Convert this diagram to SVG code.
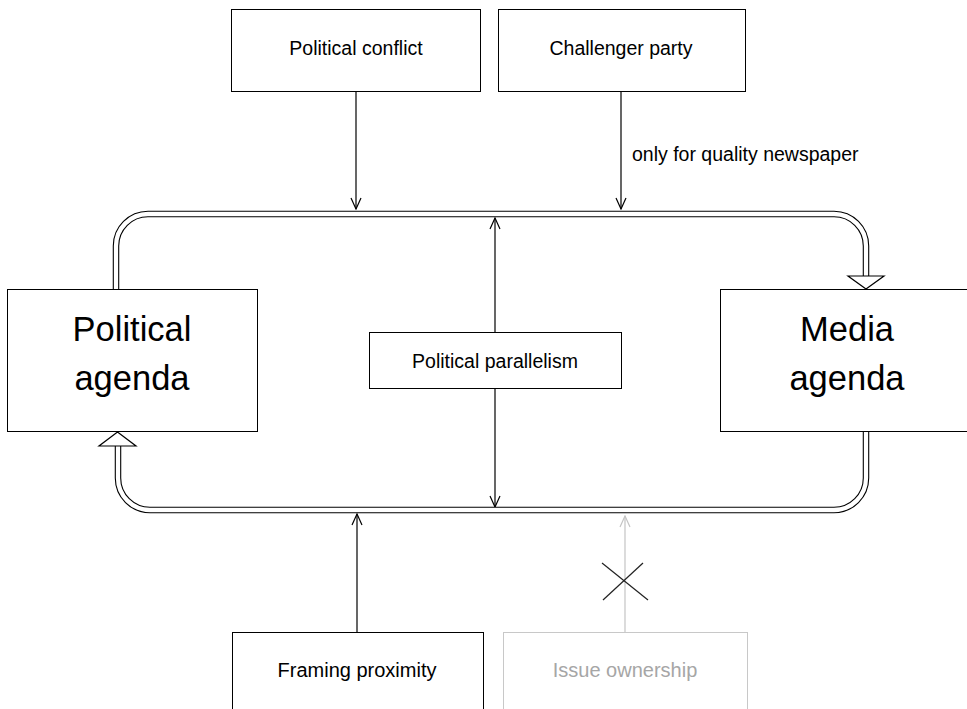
<svg xmlns="http://www.w3.org/2000/svg" width="967" height="709" viewBox="0 0 967 709">
<defs>
<marker id="v" viewBox="-12 -6 13 12" markerWidth="13" markerHeight="12" refX="0" refY="0" orient="auto-start-reverse" markerUnits="userSpaceOnUse"><path d="M-11,-5 L0,0 L-11,5" fill="none" stroke="#000" stroke-width="1.2"/></marker>
<marker id="vg" viewBox="-12 -6 13 12" markerWidth="13" markerHeight="12" refX="0" refY="0" orient="auto-start-reverse" markerUnits="userSpaceOnUse"><path d="M-11,-5 L0,0 L-11,5" fill="none" stroke="#c4c4c4" stroke-width="1.2"/></marker>
</defs>
<style>
.box{fill:#fff;stroke:#000;stroke-width:1}
.gbox{fill:#fff;stroke:#c8c8c8;stroke-width:1}
.t{font-family:"Liberation Sans",Arial,sans-serif;font-size:19.5px;fill:#000;text-anchor:middle}
.big{font-family:"Liberation Sans",Arial,sans-serif;font-size:34.5px;fill:#000;text-anchor:middle}
.gt{fill:#a6a6a6}
.ln{fill:none;stroke:#000;stroke-width:1.2}
.outer{fill:none;stroke:#000;stroke-width:6.5}
.inner{fill:none;stroke:#fff;stroke-width:4.3}
.head{fill:#fff;stroke:#000;stroke-width:1.2}
</style>
<rect width="967" height="709" fill="#fff"/>
<g id="connectors">
<line class="ln" x1="356" y1="92" x2="356" y2="209" marker-end="url(#v)"/>
<line class="ln" x1="621" y1="92" x2="621" y2="209" marker-end="url(#v)"/>
<line class="ln" x1="495" y1="218" x2="495" y2="507" marker-start="url(#v)" marker-end="url(#v)"/>
<line class="ln" x1="357" y1="632" x2="357" y2="514" marker-end="url(#v)"/>
<line x1="625" y1="632" x2="625" y2="516" fill="none" stroke="#c4c4c4" stroke-width="1.2" marker-end="url(#vg)"/>
<path class="outer" d="M116,289 L116,246 A32,32 0 0 1 148,214 L834,214 A32,32 0 0 1 866,246 L866,276"/>
<path class="inner" d="M116,289.5 L116,246 A32,32 0 0 1 148,214 L834,214 A32,32 0 0 1 866,246 L866,277"/>
<polygon class="head" points="848,276 884,276 866,289"/>
<path class="outer" d="M866,432 L866,478 A32,32 0 0 1 834,510 L150,510 A32,32 0 0 1 118,478 L118,446"/>
<path class="inner" d="M866,431.5 L866,478 A32,32 0 0 1 834,510 L150,510 A32,32 0 0 1 118,478 L118,445"/>
<polygon class="head" points="99,446 136,446 117.5,432"/>
<text class="t" x="632" y="161" style="text-anchor:start">only for quality newspaper</text>
<line x1="602" y1="563" x2="648" y2="600" stroke="#222" stroke-width="1.2"/>
<line x1="643" y1="563" x2="603" y2="600" stroke="#222" stroke-width="1.2"/>
</g>
<g id="political-conflict">
<rect class="box" x="231.5" y="9.5" width="249" height="82"/>
<text class="t" x="356" y="55">Political conflict</text>
</g>
<g id="challenger-party">
<rect class="box" x="498.5" y="9.5" width="247" height="82"/>
<text class="t" x="621" y="55">Challenger party</text>
</g>
<g id="political-agenda">
<rect class="box" x="7.5" y="289.5" width="250" height="142"/>
<text class="big" x="132" y="341">Political</text>
<text class="big" x="132" y="390">agenda</text>
</g>
<g id="media-agenda">
<rect class="box" x="720.5" y="289.5" width="260" height="142"/>
<text class="big" x="847" y="341">Media</text>
<text class="big" x="847" y="390">agenda</text>
</g>
<g id="political-parallelism">
<rect class="box" x="369.5" y="332.5" width="252" height="56"/>
<text class="t" x="495" y="368">Political parallelism</text>
</g>
<g id="framing-proximity">
<rect class="box" x="232.5" y="632.5" width="251" height="90"/>
<text class="t" x="357" y="677" style="font-size:20px">Framing proximity</text>
</g>
<g id="issue-ownership">
<rect class="gbox" x="503.5" y="632.5" width="244" height="90"/>
<text class="t gt" x="625" y="677" style="font-size:20px">Issue ownership</text>
</g>
</svg>
